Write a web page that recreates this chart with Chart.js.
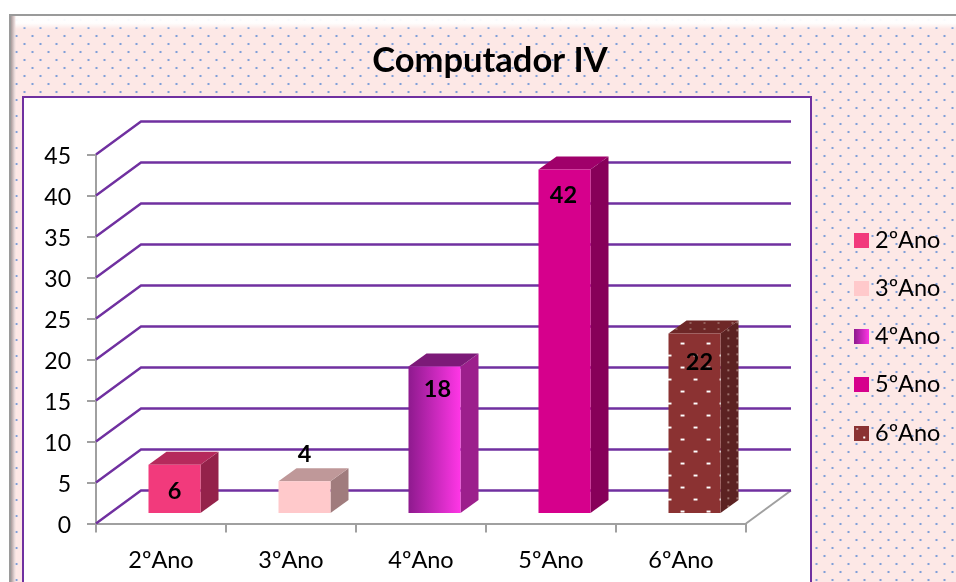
<!DOCTYPE html>
<html>
<head>
<meta charset="utf-8">
<title>Computador IV</title>
<script src="https://cdn.jsdelivr.net/npm/chart.js@4"></script>
<style>
  html, body { margin: 0; padding: 0; background: #fff; }
  #page { position: relative; width: 956px; height: 582px; overflow: hidden; }
  #frame {
    position: absolute; left: 9px; top: 14px; right: -4px; bottom: 0;
    border-top: 2px solid #9a9a9a; border-left: 2px solid #9a9a9a;
    background-color: #fde8e6;
    background-image:
      radial-gradient(circle, #7f9fd8 0 0.8px, transparent 1.6px),
      radial-gradient(circle, #7f9fd8 0 0.8px, transparent 1.6px);
    background-size: 16px 16px;
    background-position: -2.5px -4px, 5.5px 4px;
  }
  #bevel-top {
    position: absolute; left: 11px; top: 16px; right: 0; height: 13px;
    background: linear-gradient(rgba(255,255,255,0.95) 55%, rgba(255,255,255,0));
  }
  #bevel-left {
    position: absolute; left: 11px; top: 16px; bottom: 0; width: 5px;
    background: linear-gradient(90deg, #a89a9a, #e8d8d8 70%, rgba(253,232,230,0));
  }
  #plot-box {
    position: absolute; left: 22px; top: 96px; width: 786px; height: 484px;
    background: #fff;
    border: 2px solid #7030a0; border-bottom: 1px solid #a98cc8;
  }
  canvas { position: absolute; left: 0; top: 0; }
</style>
</head>
<body>
<div id="page">
  <div id="frame"></div>
  <div id="bevel-top"></div>
  <div id="bevel-left"></div>
  <div id="plot-box"></div>
  <canvas id="chart" width="956" height="582"></canvas>
</div>
<script>
const titleText = 'Computador IV';
const categories = ['2ºAno', '3ºAno', '4ºAno', '5ºAno', '6ºAno'];
const values = [6, 4, 18, 42, 22];
const yMax = 45;
const yStep = 5;

const frontColors = ['#f23a7c', '#ffc9cb', '#d020c0', '#d6008c', '#8b3232'];
const topColors = ['#b52a5c', '#bf9899', '#7c1a78', '#a0006a', '#6e2727'];
const sideColors = ['#94224a', '#a07c7d', '#9c1f8c', '#870059', '#5c2222'];

const FONT = 'Lato, Carlito, sans-serif';
const WALL = { dx: 45, dy: -33 };
const BAR_SHIFT = { dx: 13.5, dy: -9.5 };
const BAR_DEPTH = { dx: 18, dy: -13 };
const labelNudge = [[0, 27], [0, -27], [3, 23], [-1, 26], [5, 29]];

function dotPattern(bg, w, h, draw) {
  const c = document.createElement('canvas');
  c.width = w;
  c.height = h;
  const x = c.getContext('2d');
  x.fillStyle = bg;
  x.fillRect(0, 0, w, h);
  draw(x);
  return c;
}

const ctx = document.getElementById('chart').getContext('2d');

const frontTile = dotPattern('#8b3232', 26, 24, x => {
  x.fillStyle = '#ffffff';
  x.fillRect(4, 4, 4, 2);
  x.fillRect(17, 16, 4, 2);
});
const sideTile = dotPattern('#5c2222', 9, 8, x => {
  x.fillStyle = '#c8a8a0';
  x.fillRect(3, 3, 1.5, 1.5);
});
const topTile = dotPattern('#6e2727', 14, 6, x => {
  x.fillStyle = '#b89890';
  x.fillRect(4, 2, 2, 1);
});
const frontPattern = ctx.createPattern(frontTile, 'repeat');

function barFill(context) {
  const chart = context.chart;
  const i = context.dataIndex;
  if (i === 4) return frontPattern;
  if (i === 2 && chart.scales.x) {
    const cx = chart.scales.x.getPixelForValue(2);
    const g = chart.ctx.createLinearGradient(cx - 26, 0, cx + 26, 0);
    g.addColorStop(0, '#8e1a8e');
    g.addColorStop(1, '#ff36e6');
    return g;
  }
  return frontColors[i];
}

// legend swatches, drawn as point styles so gradient and dots come out right
function swatch(i) {
  return dotPattern(frontColors[i], 15, 15, x => {
    if (i === 2) {
      const g = x.createLinearGradient(0, 0, 15, 0);
      g.addColorStop(0, '#8e1a8e');
      g.addColorStop(1, '#ff36e6');
      x.fillStyle = g;
      x.fillRect(0, 0, 15, 15);
    }
    if (i === 4) {
      x.fillStyle = '#fff';
      x.fillRect(2, 3, 2, 1);
      x.fillRect(9, 11, 2, 2);
    }
  });
}

const wallPlugin = {
  id: 'wall',
  beforeDatasetsDraw(chart) {
    const { x, y } = chart.scales;
    const c = chart.ctx;
    const left = x.left, right = x.right;
    c.save();
    // floor edge on the right
    c.strokeStyle = '#a0a0a0';
    c.lineWidth = 2;
    c.beginPath();
    c.moveTo(right, y.getPixelForValue(0));
    c.lineTo(right + WALL.dx, y.getPixelForValue(0) + WALL.dy);
    c.stroke();
    c.strokeStyle = '#7030a0';
    c.lineWidth = 2.4;
    y.ticks.forEach(t => {
      const py = y.getPixelForValue(t.value);
      c.beginPath();
      c.moveTo(left, py);
      c.lineTo(left + WALL.dx, py + WALL.dy);
      c.lineTo(right + WALL.dx, py + WALL.dy);
      c.stroke();
    });
    c.restore();
  },
  beforeDatasetDraw(chart, args) {
    const c = chart.ctx;
    c.save();
    c.translate(BAR_SHIFT.dx, BAR_SHIFT.dy);
    const sidePat = c.createPattern(sideTile, 'repeat');
    const topPat = c.createPattern(topTile, 'repeat');
    args.meta.data.forEach((bar, i) => {
      const p = bar.getProps(['x', 'y', 'base', 'width'], true);
      const l = p.x - p.width / 2, r = p.x + p.width / 2;
      c.fillStyle = i === 4 ? sidePat : sideColors[i];
      c.beginPath();
      c.moveTo(r, p.y);
      c.lineTo(r + BAR_DEPTH.dx, p.y + BAR_DEPTH.dy);
      c.lineTo(r + BAR_DEPTH.dx, p.base + BAR_DEPTH.dy);
      c.lineTo(r, p.base);
      c.closePath();
      c.fill();
      c.fillStyle = i === 4 ? topPat : topColors[i];
      c.beginPath();
      c.moveTo(l, p.y);
      c.lineTo(l + BAR_DEPTH.dx, p.y + BAR_DEPTH.dy);
      c.lineTo(r + BAR_DEPTH.dx, p.y + BAR_DEPTH.dy);
      c.lineTo(r, p.y);
      c.closePath();
      c.fill();
    });
  },
  afterDatasetDraw(chart) {
    chart.ctx.restore();
  },
  afterDatasetsDraw(chart) {
    const c = chart.ctx;
    const meta = chart.getDatasetMeta(0);
    c.save();
    c.font = 'bold 23.5px ' + FONT;
    c.fillStyle = '#000';
    c.textAlign = 'center';
    c.textBaseline = 'middle';
    meta.data.forEach((bar, i) => {
      const p = bar.getProps(['x', 'y'], true);
      c.fillText(String(values[i]), p.x + BAR_SHIFT.dx + labelNudge[i][0], p.y + BAR_SHIFT.dy + labelNudge[i][1]);
    });
    c.restore();
  },
  afterLayout(chart) {
    // title is centred over the plot box, legend sits in the right hand strip
    chart.titleBlock.left = 24;
    chart.titleBlock.right = 956;
    // the legend clips to its own box, so the whole box has to move
    chart.legend.left = 835.5;
    chart.legend.right = 956;
    chart.legend.top = 203.5;
  }
};

new Chart(ctx, {
  type: 'bar',
  data: {
    labels: categories,
    datasets: [{
      label: titleText,
      data: values,
      backgroundColor: barFill,
      barPercentage: 0.4,
      categoryPercentage: 1
    }]
  },
  options: {
    responsive: false,
    animation: false,
    layout: { padding: { left: 36, right: 120, top: 0, bottom: 0 } },
    plugins: {
      tooltip: { enabled: false },
      title: {
        display: true,
        text: titleText,
        color: '#000',
        font: { family: FONT, size: 34.5, weight: 'bold' },
        padding: { top: 39.8, bottom: 73.3 }
      },
      legend: {
        position: 'right',
        align: 'start',
        maxWidth: 90,
        onClick: null,
        labels: {
          color: '#000',
          font: { family: FONT, size: 23.5 },
          usePointStyle: true,
          boxWidth: 3,
          boxHeight: 3,
          padding: 24.75,
          generateLabels: () => categories.map((t, i) => ({
            text: t,
            pointStyle: swatch(i),
            fontColor: '#000',
            lineWidth: 0,
            index: i
          }))
        }
      }
    },
    scales: {
      x: {
        afterFit: s => { s.height = 58.5; },
        border: { color: '#a0a0a0', width: 2 },
        grid: { drawOnChartArea: false, color: '#a0a0a0', lineWidth: 2, tickLength: 9 },
        ticks: { color: '#000', font: { family: FONT, size: 23.5 }, padding: 14, maxRotation: 0 }
      },
      y: {
        min: 0,
        max: yMax,
        afterFit: s => { s.width = 60; },
        border: { color: '#a0a0a0', width: 2 },
        grid: { drawOnChartArea: false, color: '#a0a0a0', lineWidth: 2, tickLength: 9 },
        ticks: { stepSize: yStep, color: '#000', font: { family: FONT, size: 23 }, padding: 16, labelOffset: 2.5 }
      }
    }
  },
  plugins: [wallPlugin]
});
</script>
</body>
</html>
